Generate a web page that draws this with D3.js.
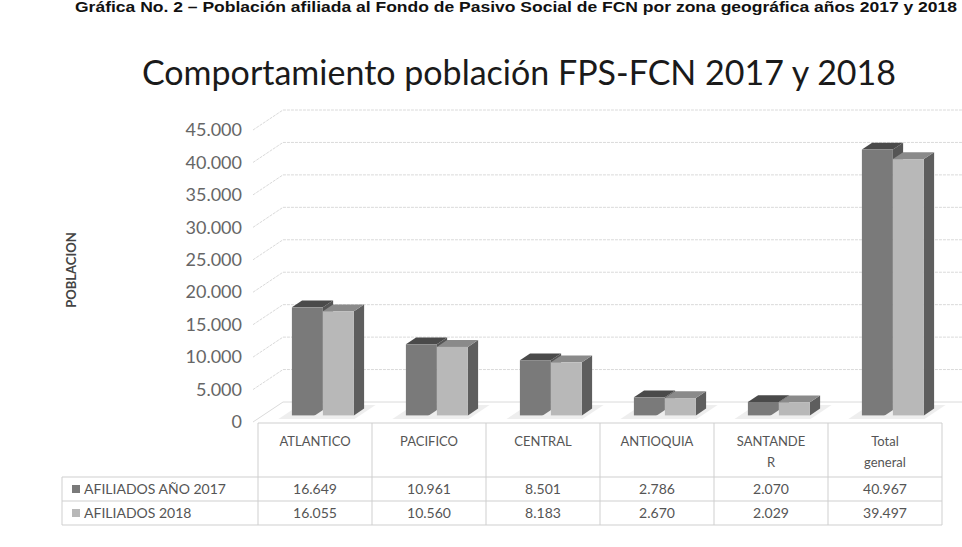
<!DOCTYPE html>
<html>
<head>
<meta charset="utf-8">
<script src="https://cdn.jsdelivr.net/npm/d3@7"></script>
<style>
  body { margin: 0; background: #fff; }
  svg { display: block; }
  text { font-family: Lato, "Open Sans", sans-serif; }
</style>
</head>
<body>
<div class="chart"></div>
<script>
// data
const categories = ["ATLANTICO", "PACIFICO", "CENTRAL", "ANTIOQUIA", "SANTANDER", "Total general"];
const categoryLines = [["ATLANTICO"], ["PACIFICO"], ["CENTRAL"], ["ANTIOQUIA"], ["SANTANDE", "R"], ["Total", "general"]];
const seriesNames = ["AFILIADOS AÑO 2017", "AFILIADOS 2018"];
const afiliados2017 = [16649, 10961, 8501, 2786, 2070, 40967];
const afiliados2018 = [16055, 10560, 8183, 2670, 2029, 39497];
const yTicks = [0, 5000, 10000, 15000, 20000, 25000, 30000, 35000, 40000, 45000];

const W = 962, H = 547;
const locale = d3.formatLocale({decimal: ",", thousands: ".", grouping: [3], currency: ["$", ""]});
const fmt = locale.format(",d");

const svg = d3.select('.chart').append('svg')
    .attr('width', W)
    .attr('height', H);

// caption of the scanned page
svg.append("text")
    .attr("x", 75).attr("y", 12)
    .attr("textLength", 882)
    .attr("lengthAdjust", "spacingAndGlyphs")
    .style("font-family", "'Liberation Sans Narrow', 'Liberation Sans', Arial, sans-serif")
    .style("font-weight", "bold")
    .style("font-size", "14px")
    .style("fill", "#111")
    .text("Gráfica No. 2 – Población afiliada al Fondo de Pasivo Social de FCN por zona geográfica años 2017 y 2018");

// title
svg.append("text")
    .attr("x", 519).attr("y", 85)
    .attr("text-anchor", "middle")
    .style("font-size", "34px")
    .style("fill", "#1a1a1a")
    .text("Comportamiento población FPS-FCN 2017 y 2018");

// scales
let y = d3.scaleLinear().domain([0, 45000]).range([422, 130]);
let x = d3.scaleBand().domain(categories).range([258, 942]).paddingInner(0).paddingOuter(0);
let x1 = d3.scaleBand().domain(seriesNames).range([24, 86]).padding(0);

// depth of the 3d box
const DX = 30, DY = -20;
const proj = (px, v, z) => [px + DX * z, y(v) + DY * z];

// left wall diagonals + back wall gridlines
const grid = svg.append("g").attr("class", "grid");
yTicks.forEach(t => {
    const a = proj(253, t, 0), b = proj(253, t, 1);
    grid.append("path")
        .attr("d", `M${a}L${b}L${W},${b[1]}`)
        .attr("fill", "none")
        .attr("stroke", "#dadada")
        .attr("stroke-dasharray", t === 0 ? null : "3,1")
        .attr("stroke-width", 1);
});

// y axis labels
svg.append("g")
    .attr("transform", "translate(242,0)")
    .call(d3.axisLeft(y).tickValues(yTicks).tickSize(0).tickPadding(0).tickFormat(fmt))
    .call(g => g.select(".domain").remove())
    .selectAll("text")
    .style("font-family", "Lato, sans-serif")
    .style("font-size", "18px")
    .style("fill", "#666");

svg.append("text")
    .attr("transform", "translate(76,270) rotate(-90)")
    .attr("text-anchor", "middle")
    .style("font-size", "13px")
    .style("font-weight", "bold")
    .style("fill", "#444")
    .text("POBLACION");

// bars (3d boxes)
const colors = {
    "AFILIADOS AÑO 2017": {front: "#7a7a7a", top: "#4a4a4a", side: "#555"},
    "AFILIADOS 2018": {front: "#b8b8b8", top: "#8a8a8a", side: "#5e5e5e"}
};
const bars = [];
categories.forEach((c, i) => {
    bars.push({cat: c, s: seriesNames[0], v: afiliados2017[i]});
    bars.push({cat: c, s: seriesNames[1], v: afiliados2018[i]});
});

const z0 = 0.33, z1 = 0.67;
const barG = svg.append("g");
bars.forEach(d => {
    const xl = x(d.cat) + x1(d.s), xr = xl + x1.bandwidth();
    const col = colors[d.s];
    const fTL = proj(xl, d.v, z0), fTR = proj(xr, d.v, z0);
    const fBL = proj(xl, 0, z0), fBR = proj(xr, 0, z0);
    const bTL = proj(xl, d.v, z1), bTR = proj(xr, d.v, z1), bBR = proj(xr, 0, z1);
    // floor shadow
    barG.append("path")
        .attr("d", `M${proj(xl - 8, 0, 0.15)}L${proj(xr + 6, 0, 0.15)}L${proj(xr + 6, 0, 0.85)}L${proj(xl - 8, 0, 0.85)}Z`)
        .attr("fill", "#eee");
    barG.append("path").attr("d", `M${fTR}L${bTR}L${bBR}L${fBR}Z`).attr("fill", col.side);
    barG.append("path").attr("d", `M${fTL}L${fTR}L${bTR}L${bTL}Z`).attr("fill", col.top);
    barG.append("rect")
        .attr("x", fTL[0]).attr("y", fTL[1])
        .attr("width", xr - xl).attr("height", fBL[1] - fTL[1])
        .attr("fill", col.front);
});

// data table
const tableLeft = 62, tableRight = 942;
const rowY = [423, 477, 501, 525];
const tbl = svg.append("g").attr("stroke", "#cfcfcf").attr("stroke-width", 1);
x.domain().forEach(c => {
    tbl.append("line").attr("x1", x(c)).attr("x2", x(c)).attr("y1", rowY[0]).attr("y2", rowY[3]);
});
tbl.append("line").attr("x1", tableRight).attr("x2", tableRight).attr("y1", rowY[0]).attr("y2", rowY[3]);
tbl.append("line").attr("x1", tableLeft).attr("x2", tableLeft).attr("y1", rowY[1]).attr("y2", rowY[3]);
tbl.append("line").attr("x1", x(categories[0])).attr("x2", tableRight).attr("y1", rowY[0]).attr("y2", rowY[0]);
[1, 2, 3].forEach(r => {
    tbl.append("line").attr("x1", tableLeft).attr("x2", tableRight).attr("y1", rowY[r]).attr("y2", rowY[r]);
});

const cellText = svg.append("g")
    .style("font-size", "13px")
    .style("fill", "#555")
    .attr("text-anchor", "middle");

categories.forEach((c, i) => {
    const lines = categoryLines[i];
    lines.forEach((ln, j) => {
        cellText.append("text")
            .attr("x", x(c) + x.bandwidth() / 2)
            .attr("y", 446 + j * 21)
            .text(ln);
    });
    cellText.append("text")
        .attr("x", x(c) + x.bandwidth() / 2).attr("y", 494)
        .style("font-size", "14px")
        .text(fmt(afiliados2017[i]));
    cellText.append("text")
        .attr("x", x(c) + x.bandwidth() / 2).attr("y", 518)
        .style("font-size", "14px")
        .text(fmt(afiliados2018[i]));
});

// legend keys in first column
[afiliados2017, afiliados2018].forEach((s, r) => {
    const cy = (rowY[r + 1] + rowY[r + 2]) / 2;
    svg.append("rect")
        .attr("x", 72).attr("y", cy - 4)
        .attr("width", 8).attr("height", 8)
        .attr("fill", colors[seriesNames[r]].front);
    svg.append("text")
        .attr("x", 84).attr("y", cy + 5)
        .style("font-size", "14px")
        .style("fill", "#555")
        .text(seriesNames[r]);
});
</script>
</body>
</html>
